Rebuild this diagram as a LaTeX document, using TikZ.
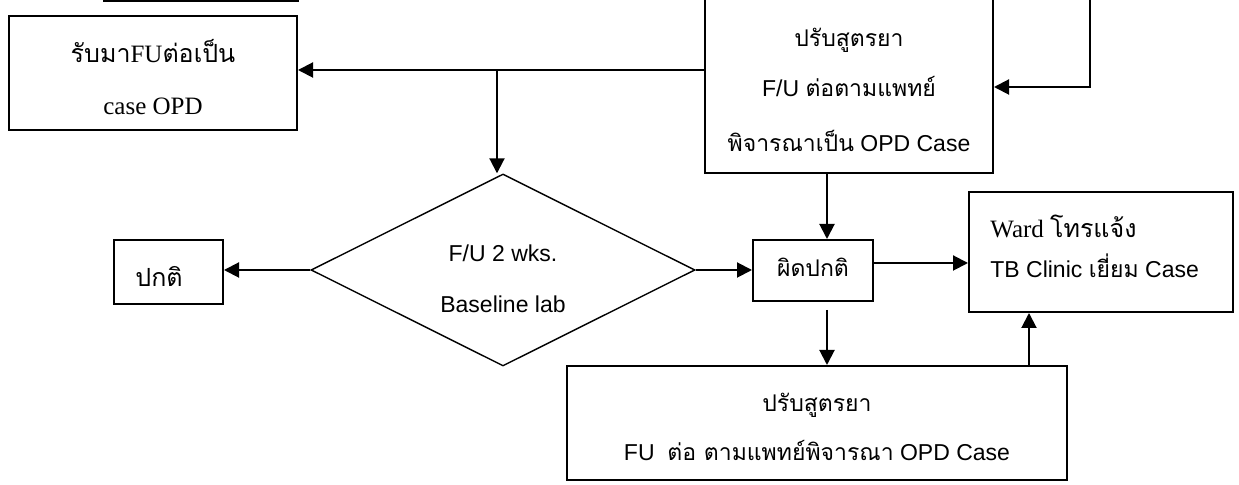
\documentclass[tikz,border=0pt]{standalone}
\usepackage{fontspec}
\setmainfont{Liberation Serif}
\newfontfamily\thai[Script=Thai]{Loma}
\newfontfamily\lsans{Liberation Sans}
\usetikzlibrary{arrows.meta,shapes.geometric}

\tikzset{
  box/.style={draw, line width=1pt, rectangle, inner sep=0pt},
  dia/.style={draw, line width=0.7pt, diamond, inner sep=0pt},
  arr/.style={line width=1pt, -{Triangle[length=7.5pt,width=7.5pt]}},
  lbl/.style={anchor=base, inner sep=0pt},
  sf/.style={font=\lsans\fontsize{11.5pt}{14pt}\selectfont},
  rm/.style={font=\rmfamily\fontsize{12.5pt}{15pt}\selectfont},
}

\begin{document}
\begin{tikzpicture}[x=0.5pt, y=-0.5pt]
\useasboundingbox (0,0) rectangle (1239,485);

% boxes
\node[box, minimum width=97pt, minimum height=20.3pt] (prevbox) at (201,-19.7) {};
\node[box, minimum width=144pt, minimum height=57pt] (opd) at (153,73) {};
\node[box, minimum width=144pt, minimum height=94pt] (adjA) at (849,79) {};
\node[dia, minimum width=192pt, minimum height=96pt] (fu) at (503,270) {};
\node[box, minimum width=54.5pt, minimum height=32pt] (normal) at (168.5,272) {};
\node[box, minimum width=60pt, minimum height=30.5pt] (abnormal) at (813,270.5) {};
\node[box, minimum width=132pt, minimum height=60pt] (ward) at (1101,252) {};
\node[box, minimum width=250pt, minimum height=57pt] (adjB) at (817,423) {};

% texts
\node[lbl, rm] (opdA) at (153,63) {{\thai รับมา}FU{\thai ต่อเป็น}};
\node[lbl, rm] (opdB) at (153,115) {case OPD};

\node[lbl, sf] (adjA1) at (849,47) {\thai ปรับสูตรยา};
\node[lbl, sf] (adjA2) at (849,97) {F/U {\thai ต่อตามแพทย์}};
\node[lbl, sf] (adjA3) at (849,152) {{\thai พิจารณาเป็น} OPD Case};

\node[lbl, sf] (fu1) at (503,262) {F/U 2 wks.};
\node[lbl, sf] (fu2) at (503,313) {Baseline lab};

\node[lbl, rm, anchor=base west] (normalT) at (135,287) {\thai ปกติ};
\node[lbl, sf] (abnormalT) at (813,277) {\thai ผิดปกติ};

\node[lbl, rm, anchor=base west] (ward1) at (990,238) {Ward {\thai โทรแจ้ง}};
\node[lbl, sf, anchor=base west] (ward2) at (990,278) {TB Clinic {\thai เยี่ยม} Case};

\node[lbl, sf] (adjB1) at (817,412) {\thai ปรับสูตรยา};
\node[lbl, sf] (adjB2) at (817,461) {FU\ \ {\thai ต่อ ตามแพทย์พิจารณา} OPD Case};

% connectors
\coordinate (feed) at (1090,-5);
\coordinate (feedturn) at (1090,87);
\coordinate (split) at (497,70);
\coordinate (colA) at (827,0);
\coordinate (colC) at (1029,0);
\coordinate (rowB) at (0,263);

\draw[arr] (feed) -- (feedturn) -- (feedturn -| adjA.east);
\draw[arr] (adjA.west |- split) -- (opd.east |- split);
\draw[arr] (split) -- (split |- fu.north);
\draw[arr] (fu.west) -- (fu.west -| normal.east);
\draw[arr] (fu.east) -- (fu.east -| abnormal.west);
\draw[arr] (adjA.south -| colA) -- (abnormal.north -| colA);
\draw[arr, shorten <=4pt] (abnormal.south -| colA) -- (adjB.north -| colA);
\draw[arr] (abnormal.east |- rowB) -- (ward.west |- rowB);
\draw[arr] (adjB.north -| colC) -- (ward.south -| colC);
\end{tikzpicture}
\end{document}
